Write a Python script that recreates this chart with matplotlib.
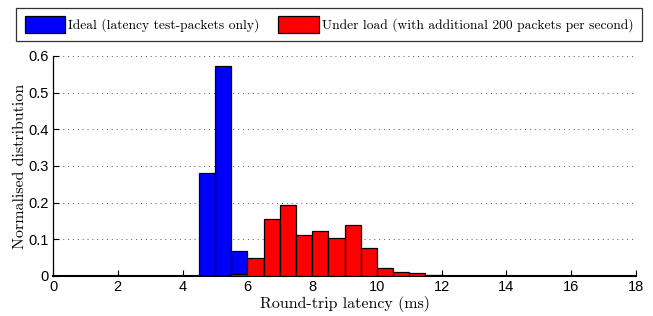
import numpy as np
import matplotlib
matplotlib.use("Agg")
import matplotlib.pyplot as plt

# histogram bins (left edges, ms) and normalised counts per bin
bin_left = [0.0, 0.5, 1.0, 1.5, 2.0, 2.5, 3.0, 3.5, 4.0, 4.5, 5.0, 5.5,
            6.0, 6.5, 7.0, 7.5, 8.0, 8.5, 9.0, 9.5, 10.0, 10.5, 11.0, 11.5,
            12.0, 12.5, 13.0, 13.5, 14.0, 14.5, 15.0, 15.5, 16.0, 16.5, 17.0, 17.5]
bin_width = 0.5

ideal = [0, 0, 0, 0, 0, 0, 0, 0, 0, 0.282, 0.573, 0.067,
         0, 0, 0, 0, 0, 0, 0, 0, 0, 0, 0, 0,
         0, 0, 0, 0, 0, 0, 0, 0, 0, 0, 0, 0]
loaded = [0, 0, 0, 0, 0, 0, 0, 0, 0, 0, 0, 0.006,
          0.048, 0.155, 0.194, 0.111, 0.123, 0.103, 0.139, 0.076, 0.022, 0.010, 0.007, 0.003,
          0.001, 0.0005, 0, 0, 0, 0.0005, 0, 0, 0, 0, 0, 0]

labels = ["Ideal (latency test-packets only)",
          "Under load (with additional 200 packets per second)"]

serif = "cmr10"
sans = "Liberation Sans"

fig = plt.figure(figsize=(6.53, 3.16), dpi=100)
ax = fig.add_axes([0.0812, 0.1266, 0.8928, 0.6962])

b1 = ax.bar(bin_left, ideal, width=bin_width, align="edge", color="#0000ff",
            edgecolor="black", linewidth=0.9, zorder=2)
b2 = ax.bar(bin_left, loaded, width=bin_width, align="edge", color="#ff0000",
            edgecolor="black", linewidth=0.9, zorder=3)

ax.set_xlim(0, 18)
ax.set_ylim(0, 0.6)
ax.set_xticks(range(0, 19, 2))
ax.set_yticks([0, 0.1, 0.2, 0.3, 0.4, 0.5, 0.6])
ax.set_yticklabels(["0", "0.1", "0.2", "0.3", "0.4", "0.5", "0.6"])
ax.tick_params(direction="in", length=4, width=0.8, labelsize=10.5, pad=3)
for lab in ax.get_xticklabels() + ax.get_yticklabels():
    lab.set_fontfamily(sans)

ax.spines["top"].set_visible(False)
ax.spines["right"].set_visible(False)
ax.spines["left"].set_linewidth(0.9)
ax.spines["bottom"].set_linewidth(1.5)
ax.yaxis.grid(True, linestyle=(0, (1, 4)), color="#555555", linewidth=0.7, zorder=0)
ax.set_axisbelow(True)

ax.set_xlabel("Round-trip latency (ms)", fontfamily=serif, fontsize=11.5, labelpad=1)
ax.set_ylabel("Normalised distribution", fontfamily=serif, fontsize=11.5, labelpad=1)

# legend box sits above the axes, spanning almost the whole figure width
leg = fig.legend([b1, b2], labels, loc="upper center", ncol=2,
                 bbox_to_anchor=(0.504, 0.975),
                 prop={"family": serif, "size": 9.7}, frameon=True, fancybox=False,
                 handlelength=3.0, handleheight=1.6, handletextpad=0.25,
                 columnspacing=1.4, borderaxespad=0.0, borderpad=0.6)
leg.get_frame().set_edgecolor("black")
leg.get_frame().set_linewidth(0.9)

fig.savefig("out.png", dpi=100)
